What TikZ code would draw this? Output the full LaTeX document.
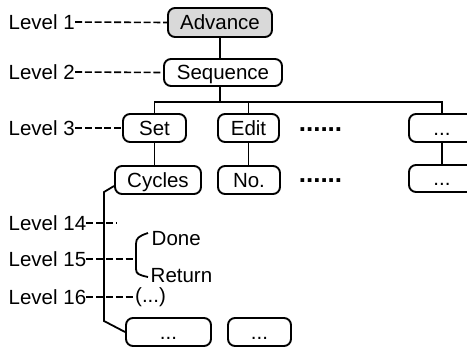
\documentclass[tikz,border=0pt]{standalone}
\usepackage{fontspec}
\setmainfont{Liberation Sans}
\begin{document}
\begin{tikzpicture}[x=1pt,y=-1pt,
  every node/.style={font=\fontsize{20.5}{23}\selectfont, inner sep=0pt},
  box/.style={draw, line width=1.9pt, rounded corners=7pt, minimum height=28pt,
              text height=14.5pt, text depth=0pt, align=center},
  conn/.style={line width=1.8pt},
  lvl/.style={anchor=west},
  dots/.style={font=\fontsize{26}{28}\bfseries\selectfont},
  dsh/.style={line width=1.6pt, dash pattern=on 7pt off 2.8pt}]
\useasboundingbox (0,0) rectangle (467,349);
\clip (0,0) rectangle (467,349);

% boxes
\node[box, fill=gray!30, minimum width=104pt, minimum height=29pt] (adv) at (220,22.5) {Advance};
\node[box, minimum width=118pt, minimum height=27pt] (seq) at (223,72.5) {Sequence};
\node[box, minimum width=63pt] (set) at (154.5,128) {Set};
\node[box, minimum width=61pt] (edit) at (248.5,128) {Edit};
\node[box, minimum width=66pt] (r1) at (442,128) {...};
\node[box, minimum width=86pt] (cyc) at (158,180) {Cycles};
\node[box, minimum width=62pt] (no) at (249,180) {No.};
\node[box, minimum width=66pt, minimum height=27pt] (r2) at (442,178.5) {...};
\node[box, minimum width=85pt] (b1) at (168.5,332) {...};
\node[box, minimum width=63pt] (b2) at (259.5,332) {...};

\node[dots] (d1) at (320.5,130) {......};
\node[dots] (d2) at (320.5,181) {......};

% tree connectors
\coordinate (bus) at (220,102);
\draw[conn] (adv.south) -- (adv.south |- seq.north);
\draw[conn] (seq.south -| bus) -- (bus);
\draw[conn] (set.north) |- (bus) -| (r1.north);
\draw[conn] (edit.north) -- (edit.north |- bus);
\draw[conn] (set.south) -- (set.south |- cyc.north);
\draw[conn] (edit.south) -- (edit.south |- no.north);
\draw[conn] (r1.south) -- (r2.north);
\coordinate (k1) at (104,192);
\coordinate (k2) at (104,321);
\draw[conn] ([yshift=-6pt]cyc.west) -- (k1) -- (k2) -- (b1.west);

% level labels
\node[lvl] (l1) at (8.5,22) {Level 1};
\node[lvl] (l2) at (8.5,72) {Level 2};
\node[lvl] (l3) at (8.5,128) {Level 3};
\node[lvl] (l14) at (8.5,223) {Level 14};
\node[lvl] (l15) at (8.5,259) {Level 15};
\node[lvl] (l16) at (8.5,297) {Level 16};

\draw[dsh] (l1.east) -- (adv.west);
\draw[dsh] (l2.east) -- (seq.west);
\draw[dsh] (l3.east) -- (set.west);
\coordinate (e14) at (116,223);
\draw[dsh] (l14.east) -- (e14);

% bracket
\coordinate (br) at (136,259);
\draw[conn] (148,233) .. controls (139,236) and (136,238) .. (136,244) -- (136,269)
  .. controls (136,274) and (139,275) .. (148,277);
\draw[dsh] (l15.east) -- (br);
\node[anchor=west] (done) at (151.5,239) {Done};
\node[anchor=west] (ret) at (150.5,276) {Return};

\node[anchor=west] (etc) at (135,297) {(...)};
\draw[dsh] (l16.east) -- (etc.west);
\end{tikzpicture}
\end{document}
